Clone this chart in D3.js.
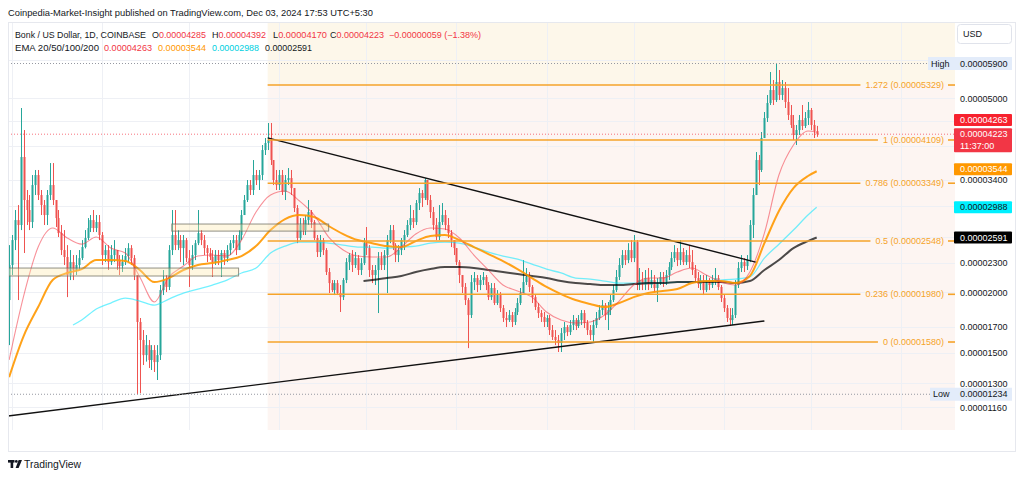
<!DOCTYPE html>
<html><head><meta charset="utf-8">
<script src="https://cdn.jsdelivr.net/npm/d3@7"></script>
<style>
body{margin:0;background:#fff;}
svg{display:block;font-family:"Liberation Sans",Arial,sans-serif;}
</style></head><body>
<svg id="c" width="1024" height="478"></svg>
<script>
// ---------------- DATA (prices in units of 1e-8 USD) ----------------
const UNIT = 1e-8;
const startDate = Date.UTC(2024, 1, 29);   // first candle: Feb 29, 2024 (daily)
const firstOpen = 1927;
const closes = [
 2274,2559,2813,2748,3791,3093,2950,2787,3320,3481,
 3167,3020,2881,3167,3320,3093,2840,2645,2441,2362,
 2169,2306,2221,2274,2350,2476,2584,2709,2813,2709,
 2787,2621,2384,2441,2306,2384,2441,2328,2263,2306,
 2373,2464,2350,2169,1737,1595,1485,1557,1451,1521,
 1437,1485,2020,2118,2050,2441,2621,2499,2559,2464,
 2559,2350,2274,2384,2522,2645,2559,2464,2407,2362,
 2306,2384,2328,2407,2350,2441,2522,2559,2441,2621,
 2881,3093,3320,3243,3481,3400,3481,3918,4050,4108,
 3737,3400,3320,3481,3213,3400,3432,3273,2978,2584,
 2748,2683,2813,2922,2787,2584,2418,2559,2441,2200,
 2088,2020,2088,1992,1954,2118,2306,2384,2274,2350,
 2221,2295,2522,2464,2221,2169,2221,2350,2274,2384,
 2559,2683,2499,2384,2441,2559,2621,2748,2840,2787,
 3049,3197,3122,3400,3093,2922,2748,2596,2787,2881,
 2748,2645,2559,2464,2306,2169,2050,1927,1795,2098,
 2138,2069,2118,2149,2069,1954,2040,1900,1973,1855,
 1770,1753,1795,1737,1821,1900,1992,2098,2149,2050,
 1954,1865,1812,1778,1737,1770,1672,1618,1595,1572,
 1648,1696,1656,1712,1753,1704,1753,1812,1729,1672,
 1633,1712,1770,1838,1882,1795,1838,1927,2020,2149,
 2274,2384,2328,2441,2350,2535,2069,2118,2069,2138,
 2069,2118,2040,2088,2149,2098,2169,2252,2350,2418,
 2328,2418,2306,2384,2306,2221,2138,2079,2118,2020,
 2098,2069,2118,2138,2050,1945,1855,1770,1753,1795,
 2069,2242,2306,2263,2328,2748,3167,3737,3565,4147,
 4558,4894,5204,4964,5405,5083,5253,4918,4624,4411,
 4207,4307,4516,4390,4558,4735,4411,4285,4223
];
const highs = [
 2499,2621,2950,3020,4780,4307,3243,3167,3481,3565,
 3565,3243,3093,3243,3684,3684,3093,2950,2748,2683,
 2499,2441,2384,2384,2441,2559,2683,2840,2881,2950,
 2881,2881,2658,2499,2499,2499,2559,2441,2384,2384,
 2464,2522,2499,2384,2169,1770,1672,1633,1595,1557,
 1557,1557,2069,2221,2169,2499,2950,2950,2683,2621,
 2621,2584,2441,2499,2559,2950,2683,2621,2499,2464,
 2441,2441,2441,2441,2441,2499,2559,2621,2621,2683,
 2950,3167,3400,3400,3737,3565,3565,4012,4147,4452,
 4452,3737,3565,3565,3565,3481,3598,3565,3273,3020,
 2840,2840,2881,3093,2950,2813,2621,2621,2584,2464,
 2242,2118,2118,2118,2069,2138,2350,2407,2441,2418,
 2384,2350,2584,2722,2499,2274,2274,2418,2418,2441,
 2621,2748,2748,2522,2499,2584,2683,2813,3020,2950,
 3093,3273,3243,3432,3400,3167,2992,2840,3020,3049,
 2950,2840,2683,2559,2464,2328,2169,2088,1945,2169,
 2200,2169,2169,2200,2169,2098,2088,2088,2020,2001,
 1882,1821,1838,1821,1855,1945,2040,2328,2242,2200,
 2069,1973,1900,1838,1821,1795,1795,1712,1672,1633,
 1688,1737,1712,1753,1795,1770,1795,1838,1838,1753,
 1712,1753,1821,1882,1927,1900,1909,1973,2069,2221,
 2350,2441,2441,2522,2559,2621,2560,2242,2200,2221,
 2242,2221,2169,2138,2200,2200,2221,2306,2418,2499,
 2464,2559,2464,2441,2499,2441,2274,2200,2169,2169,
 2169,2138,2169,2242,2169,2069,1973,1882,1855,1855,
 2118,2306,2384,2350,2384,2813,3273,3881,3827,4267,
 4690,5083,5667,5457,5900,5721,5457,5405,5253,4848,
 4624,4411,4624,4848,4690,4918,4780,4516,4392
];
const lows = [
 1557,2169,2441,1927,2683,2407,2748,2683,2709,3167,
 3093,2881,2748,2748,3093,3020,2722,2596,2384,2274,
 1954,2118,2118,2169,2221,2328,2460,2559,2658,2658,
 2658,2559,2274,2306,2221,2274,2306,2221,2169,2200,
 2274,2306,2274,2118,1234,1240,1417,1440,1397,1384,
 1371,1320,1451,1973,2001,2020,2384,2441,2441,2306,
 2274,2306,2050,2221,2328,2499,2499,2384,2306,2328,
 2149,2274,2274,2149,2274,2306,2384,2464,2384,2441,
 2559,2881,3064,3167,3167,3320,3243,3400,3827,3918,
 3650,3320,3243,3243,3167,3093,3320,3167,2922,2522,
 2560,2621,2621,2748,2709,2559,2362,2362,2384,2169,
 1992,2001,1973,1973,1821,1927,2088,2221,2200,2242,
 2169,2169,2274,2384,2149,2088,2069,1812,2221,2221,
 1992,2522,2441,2306,2306,2384,2441,2596,2683,2709,
 2748,2950,2992,3093,3020,2840,2683,2559,2559,2748,
 2683,2584,2476,2384,2274,2088,1992,1882,1535,1770,
 2020,2001,2020,2069,2020,1927,1927,1882,1882,1821,
 1737,1696,1737,1696,1712,1795,1882,1992,2069,2001,
 1900,1838,1770,1737,1696,1696,1633,1595,1557,1507,
 1507,1595,1625,1633,1672,1672,1688,1712,1688,1633,
 1595,1580,1688,1753,1795,1753,1672,1795,1909,2001,
 2118,2242,2274,2295,2306,2306,2020,2020,2020,2020,
 2020,2040,2001,1909,2069,2050,2069,2118,2221,2306,
 2263,2274,2274,2274,2242,2169,2098,2040,2020,1973,
 2001,2020,2040,2069,2020,1909,1821,1737,1704,1712,
 1770,2040,2200,2200,2221,2306,2584,3167,3320,3531,
 4147,4474,4848,4848,4918,4964,4964,4780,4516,4348,
 4108,4012,4207,4307,4348,4411,4307,4147,4170
];

// EMA readings, sampled: first index, then every 5th day, then last day
const ema20Start = 0;
const ema20 = [1451,1964,2476,2709,2584,2510,2596,2464,2407,2149,1909,2149,2263,2373,2384,2373,2559,2922,3167,3227,
 3078,2881,2596,2441,2373,2362,2362,2476,2633,2709,2696,2584,2384,2221,2069,2011,1954,1821,1753,1729,
 1737,1795,1918,2069,2138,2138,2200,2242,2169,2098,2069,2200,2645,3481,4012,4287,4263];
const ema50Start = 0;
const ema50 = [1338,1625,1864,2118,2190,2231,2328,2328,2317,2221,2098,2138,2221,2274,2295,2328,2373,2487,2683,2827,
 2881,2854,2735,2633,2559,2522,2487,2476,2547,2609,2621,2559,2476,2395,2317,2231,2138,2050,1982,1927,
 1891,1864,1900,1954,1992,2011,2030,2088,2108,2108,2088,2159,2522,2936,3273,3465,3544];
const ema100Start = 22;
const ema100 = [1712,1753,1847,1900,1945,1918,1882,1936,1992,2030,2069,2118,2190,2242,2407,2487,2535,2535,2522,2499,
 2476,2476,2464,2476,2487,2522,2535,2522,2476,2418,2373,2339,2284,2231,2190,2138,2128,2108,2088,2088,
 2088,2088,2098,2098,2108,2118,2128,2149,2350,2510,2683,2881,2988];
const ema200Start = 122;
const ema200 = [2108,2118,2138,2159,2200,2231,2252,2252,2242,2221,2200,2179,2159,2138,2108,2088,2079,2069,2069,2079,
 2088,2088,2098,2098,2098,2098,2088,2108,2221,2328,2464,2547,2591];

// Fibonacci retracement
const fibStartIdx = 89;
const fibLevels = ["1.272","1","0.786","0.5","0.236","0"];
const fibPrices = [5329,4109,3349,2548,1980,1580];
// Trendlines [dayIndex, price]
const trendDown = [[89,4150],[257,2306]];
const trendUp = [[-1,1112],[260,1745]];
// Zones
const zones = [{from:-2,to:79,top:2242,bottom:2159},{from:56,to:110,top:2761,bottom:2670}];
// Axis ticks (labelled) and grid levels
const priceTicks = [5000,3400,2300,2000,1700,1500,1300,1160];
const priceGrid = [6000,5000,4500,4000,3400,3000,2600,2300,2000,1700,1500,1300,1160];
const monthTicks = ["2024-03-01","2024-04-01","2024-05-01","2024-06-01","2024-07-01","2024-08-01","2024-09-01","2024-10-01","2024-11-01","2024-12-01","2025-01-01"];
const monthLabels = ["Mar","Apr","May","Jun","Jul","Aug","Sep","Oct","Nov","Dec","2025"];
const last = {o:4285,h:4392,l:4170,c:4223,chg:-59,pct:-1.38,high:5900,low:1234,countdown:"11:37:00"};

// ---------------- LAYOUT ----------------
const DAY = 86400000;
const dateOf = i => new Date(startDate + i*DAY);
const PL=8, PR=955, PT=22, PB=430;
const x = d3.scaleUtc().domain([dateOf(0), dateOf(320)]).range([9.1, 9.1 + 320*2.905]);
const y = d3.scaleLog().domain([1042, 7180]).range([PB, PT]);
const fmt = v => (v*UNIT).toFixed(8);

const GREEN="#26a69a", RED="#ef5350", FIB="#f5a32a";
const svg = d3.select("#c");
const defs = svg.append("defs");
defs.append("clipPath").attr("id","plotClip").append("rect").attr("x",PL).attr("y",PT).attr("width",PR-PL).attr("height",PB-PT);
defs.append("clipPath").attr("id","axClip").append("rect").attr("x",PL).attr("y",PB).attr("width",PR-PL).attr("height",30);

svg.append("rect").attr("width",1024).attr("height",478).attr("fill","#fff");

const g = svg.append("g").attr("clip-path","url(#plotClip)");
// fib background tint
const fx0 = x(dateOf(fibStartIdx));
g.append("rect").attr("x",fx0).attr("y",PT).attr("width",PR-fx0).attr("height",y(fibPrices[0])-PT).attr("fill","#fdf7ea");
g.append("rect").attr("x",fx0).attr("y",y(fibPrices[0])).attr("width",PR-fx0).attr("height",PB-y(fibPrices[0])).attr("fill","#fdf5f2");

// grid
const monthDates = monthTicks.map(s=>new Date(s+"T00:00:00Z"));
g.selectAll(".vg").data(monthDates).join("line").attr("x1",d=>Math.round(x(d))+0.5).attr("x2",d=>Math.round(x(d))+0.5)
  .attr("y1",PT).attr("y2",PB).attr("stroke","#eef0f5").attr("stroke-width",1);
g.selectAll(".hg").data(priceGrid).join("line").attr("x1",PL).attr("x2",PR).attr("y1",d=>Math.round(y(d))+0.5).attr("y2",d=>Math.round(y(d))+0.5)
  .attr("stroke","#eef0f5").attr("stroke-width",1);

// candles
const candles = closes.map((c,i)=>{
  const o = i ? closes[i-1] : firstOpen;
  return {date:dateOf(i), o, c, h:Math.max(highs[i],o,c), l:Math.min(lows[i],o,c)};
});
const cg = g.append("g");
const cs = cg.selectAll("g").data(candles).join("g");
cs.append("line").attr("x1",d=>Math.round(x(d.date))+0.5).attr("x2",d=>Math.round(x(d.date))+0.5)
  .attr("y1",d=>y(d.h)).attr("y2",d=>y(d.l)).attr("stroke",d=>d.c>=d.o?GREEN:RED).attr("stroke-width",1);
cs.append("rect").attr("x",d=>Math.round(x(d.date))-0.5).attr("width",2)
  .attr("y",d=>y(Math.max(d.o,d.c))).attr("height",d=>Math.max(1,y(Math.min(d.o,d.c))-y(Math.max(d.o,d.c))))
  .attr("fill",d=>d.c>=d.o?GREEN:RED);

// EMAs
function grid(start,n){const a=[start];for(let k=Math.ceil((start+1)/5)*5;k<=275;k+=5)a.push(k);a.push(278);return a.slice(0,n);}
function pts(start,vals){const idx=grid(start,vals.length);return vals.map((v,k)=>[idx[k],v]);}
const line = d3.line().x(d=>x(dateOf(d[0]))).y(d=>y(d[1])).curve(d3.curveMonotoneX);
g.append("path").attr("d",line(pts(ema100Start,ema100))).attr("fill","none").attr("stroke","#00e5ff").attr("stroke-opacity",0.55).attr("stroke-width",1.3);
g.append("path").attr("d",line(pts(ema200Start,ema200))).attr("fill","none").attr("stroke","#000").attr("stroke-opacity",0.7).attr("stroke-width",2);
g.append("path").attr("d",line(pts(ema50Start,ema50))).attr("fill","none").attr("stroke","#ff9800").attr("stroke-opacity",0.9).attr("stroke-width",2);
g.append("path").attr("d",line(pts(ema20Start,ema20))).attr("fill","none").attr("stroke","#f23645").attr("stroke-opacity",0.55).attr("stroke-width",1.1);

// zones
g.selectAll(".zone").data(zones).join("rect")
  .attr("x",d=>x(dateOf(d.from))).attr("width",d=>x(dateOf(d.to))-x(dateOf(d.from)))
  .attr("y",d=>y(d.top)).attr("height",d=>y(d.bottom)-y(d.top))
  .attr("fill","#fbe9a8").attr("fill-opacity",0.35).attr("stroke","#6d6d60").attr("stroke-opacity",0.75).attr("stroke-width",1);

// trendlines
[trendDown,trendUp].forEach(t=>{
  g.append("line").attr("x1",x(dateOf(t[0][0]))).attr("y1",y(t[0][1])).attr("x2",x(dateOf(t[1][0]))).attr("y2",y(t[1][1]))
   .attr("stroke","#111").attr("stroke-width",1.4);
});

// dotted lines: high / low / last price
svg.append("line").attr("x1",PL).attr("x2",928).attr("y1",y(last.high)).attr("y2",y(last.high)).attr("stroke","#9598a1").attr("stroke-dasharray","1 2");
svg.append("line").attr("x1",PL).attr("x2",930).attr("y1",y(last.low)).attr("y2",y(last.low)).attr("stroke","#9598a1").attr("stroke-dasharray","1 2");
svg.append("line").attr("x1",PL).attr("x2",PR).attr("y1",y(last.c)).attr("y2",y(last.c)).attr("stroke","#f23645").attr("stroke-opacity",0.7).attr("stroke-dasharray","1 2");

// fib levels + labels
const fg = svg.append("g");
fibLevels.forEach((lv,k)=>{
  const yy = y(fibPrices[k]);
  const t = fg.append("text").attr("x",944).attr("y",yy).attr("dy","0.35em").attr("text-anchor","end")
    .attr("font-size",9).attr("fill",FIB).text(`${lv} (${fmt(fibPrices[k])})`);
  const w = t.node().getComputedTextLength();
  fg.append("line").attr("x1",fx0).attr("x2",944-w-5).attr("y1",yy).attr("y2",yy).attr("stroke",FIB).attr("stroke-width",1.6);
  fg.append("line").attr("x1",948).attr("x2",PR).attr("y1",yy).attr("y2",yy).attr("stroke",FIB).attr("stroke-width",1.6);
});

// ---------------- AXES ----------------
const yAx = svg.append("g").attr("transform",`translate(${PR},0)`)
  .call(d3.axisRight(y).tickValues(priceTicks).tickFormat(fmt).tickSize(0).tickPadding(5));
yAx.select(".domain").remove();
yAx.selectAll("text").attr("font-size",9).attr("fill","#131722").attr("font-family","Liberation Sans, Arial, sans-serif");

const xAx = svg.append("g").attr("transform",`translate(0,${PB})`).attr("clip-path","url(#axClip)")
  .call(d3.axisBottom(x).tickValues(monthDates).tickFormat((d,i)=>monthLabels[i]).tickSize(0).tickPadding(4));
xAx.select(".domain").remove();
xAx.selectAll("text").attr("font-size",9).attr("fill","#131722").attr("font-family","Liberation Sans, Arial, sans-serif")
  .attr("font-weight",(d,i)=>monthLabels[i]==="2025"?"bold":"normal");

// right-axis labels
function axLabel(v,bg,fg,yc,extra){
  const h = extra?24:12;
  svg.append("rect").attr("x",954).attr("y",yc-6).attr("width",58).attr("height",h).attr("fill",bg).attr("rx",1);
  svg.append("text").attr("x",960).attr("y",yc).attr("dy","0.35em").attr("font-size",9).attr("fill",fg).text(fmt(v));
  if(extra) svg.append("text").attr("x",960).attr("y",yc+12).attr("dy","0.35em").attr("font-size",9).attr("fill",fg).text(extra);
}
// High / Low
[[last.high,"High",928],[last.low,"Low",930]].forEach(([v,lab,x0])=>{
  const yc=y(v);
  svg.append("rect").attr("x",x0).attr("y",yc-6.5).attr("width",1012-x0).attr("height",13).attr("fill","#e3ecfa");
  svg.append("text").attr("x",x0+3).attr("y",yc).attr("dy","0.35em").attr("font-size",9).attr("fill","#131722").text(lab);
  svg.append("text").attr("x",960).attr("y",yc).attr("dy","0.35em").attr("font-size",9).attr("fill","#131722").text(fmt(v));
});
axLabel(ema20[ema20.length-1],"#f7222e","#fff",120);
axLabel(last.c,"#f23645","#fff",y(last.c),last.countdown);
axLabel(ema50[ema50.length-1],"#ff9800","#fff",y(ema50[ema50.length-1])-2);
axLabel(ema100[ema100.length-1],"#00f0ff","#131722",y(ema100[ema100.length-1]));
axLabel(ema200[ema200.length-1],"#000","#fff",y(ema200[ema200.length-1]));

// USD box
svg.append("rect").attr("x",957.5).attr("y",24.5).attr("width",54).attr("height",19).attr("rx",3).attr("fill","#fff").attr("stroke","#e0e3eb");
svg.append("text").attr("x",963).attr("y",34).attr("dy","0.35em").attr("font-size",9).attr("fill","#131722").text("USD");

// frame
svg.append("rect").attr("x",PL+0.5).attr("y",PT+0.5).attr("width",1015-PL).attr("height",451-PT).attr("fill","none").attr("stroke","#e6e8ee");

// ---------------- HEADER ----------------
const hdr = svg.append("g").attr("font-size",8.8).attr("fill","#131722");
hdr.append("text").attr("x",8).attr("y",16).attr("font-size",9.2).attr("textLength",365).attr("lengthAdjust","spacingAndGlyphs")
  .text("Coinpedia-Market-Insight published on TradingView.com, Dec 03, 2024 17:53 UTC+5:30");
hdr.append("text").attr("x",15).attr("y",37.5).attr("textLength",131).attr("lengthAdjust","spacingAndGlyphs")
  .text("Bonk / US Dollar, 1D, COINBASE");
// O/H/L/C: letter + value in one text element
const ohlc = [["O",last.o,152],["H",last.h,212],["L",last.l,273],["C",last.c,330]];
ohlc.forEach(([k,v,xx])=>{
  const t = hdr.append("text").attr("x",xx).attr("y",37.5).attr("textLength",54).attr("lengthAdjust","spacingAndGlyphs");
  t.append("tspan").attr("fill","#131722").text(k);
  t.append("tspan").attr("fill","#f23645").text(fmt(v));
});
hdr.append("text").attr("x",389).attr("y",37.5).attr("textLength",92).attr("lengthAdjust","spacingAndGlyphs").attr("fill","#f23645")
  .text(`\u2212${fmt(Math.abs(last.chg))} (\u2212${Math.abs(last.pct).toFixed(2)}%)`);
const L3 = [
 ["EMA 20/50/100/200",15,84,"#131722"],
 [fmt(ema20[ema20.length-1]),104,48,"#f23645"],
 [fmt(ema50[ema50.length-1]),158,48,"#ff9800"],
 [fmt(ema100[ema100.length-1]),212,47,"#00cfe0"],
 [fmt(ema200[ema200.length-1]),265,47,"#131722"]
];
L3.forEach(([t,xx,w,c])=>hdr.append("text").attr("x",xx).attr("y",51).attr("textLength",w).attr("lengthAdjust","spacingAndGlyphs").attr("fill",c).text(t));

// ---------------- LOGO ----------------
const lg = svg.append("g").attr("fill","#131722");
lg.append("rect").attr("x",8).attr("y",460).attr("width",6.5).attr("height",2.6);
lg.append("rect").attr("x",10.6).attr("y",460).attr("width",2.6).attr("height",8);
lg.append("circle").attr("cx",16.3).attr("cy",461.4).attr("r",1.4);
lg.append("path").attr("d","M18.6 460 L22 460 L18.6 468 L15.6 468 Z");
lg.append("text").attr("x",24).attr("y",467.5).attr("font-size",10).attr("textLength",57).attr("lengthAdjust","spacingAndGlyphs").text("TradingView");
</script>
</body></html>
